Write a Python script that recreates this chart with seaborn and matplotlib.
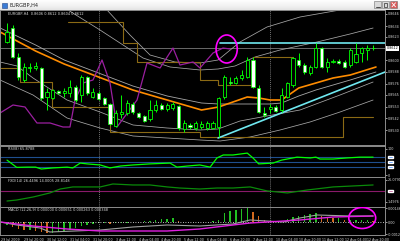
import matplotlib
matplotlib.use("Agg")
import matplotlib.pyplot as plt
import seaborn as sns
import numpy as np
import pandas as pd
from matplotlib.patches import Ellipse, Rectangle

# ---------------- data ----------------
bar_open = [0.8618, 0.8632, 0.8603, 0.8580, 0.8592, 0.8592, 0.8592, 0.8563, 0.8562, 0.8569,
            0.8567, 0.8567, 0.8573, 0.8565, 0.8583, 0.8563, 0.8567, 0.8562, 0.8556, 0.8534,
            0.8546, 0.8547, 0.8556, 0.8547, 0.8544, 0.8541, 0.8550, 0.8555, 0.8551, 0.8552,
            0.8554, 0.8531, 0.8535, 0.8532, 0.8533, 0.8532, 0.8532, 0.8533, 0.8563, 0.8578,
            0.8577, 0.8582, 0.8583, 0.8600, 0.8572, 0.8547, 0.8551, 0.8553, 0.8550, 0.8563,
            0.8575, 0.8600, 0.8595, 0.8587, 0.8593, 0.8612, 0.8593, 0.8598, 0.8599, 0.8598,
            0.8595, 0.8598, 0.8607, 0.8610, 0.8612]
bar_high = [0.8637, 0.8635, 0.8607, 0.8597, 0.8597, 0.8598, 0.8593, 0.8572, 0.8571, 0.8570,
            0.8572, 0.8580, 0.8575, 0.8585, 0.8584, 0.8572, 0.8569, 0.8563, 0.8557, 0.8550,
            0.8565, 0.8560, 0.8558, 0.8548, 0.8545, 0.8560, 0.8560, 0.8557, 0.8557, 0.8558,
            0.8555, 0.8540, 0.8537, 0.8539, 0.8539, 0.8539, 0.8539, 0.8563, 0.8585, 0.8583,
            0.8584, 0.8590, 0.8603, 0.8603, 0.8575, 0.8553, 0.8556, 0.8555, 0.8572, 0.8578,
            0.8603, 0.8607, 0.8597, 0.8595, 0.8617, 0.8613, 0.8602, 0.8601, 0.8601, 0.8600,
            0.8612, 0.8617, 0.8613, 0.8615, 0.8615]
bar_low = [0.8617, 0.8602, 0.8580, 0.8578, 0.8588, 0.8590, 0.8560, 0.8550, 0.8561, 0.8566,
           0.8563, 0.8563, 0.8558, 0.8558, 0.8565, 0.8562, 0.8560, 0.8555, 0.8535, 0.8533,
           0.8542, 0.8545, 0.8546, 0.8542, 0.8538, 0.8539, 0.8548, 0.8550, 0.8549, 0.8550,
           0.8530, 0.8528, 0.8531, 0.8530, 0.8531, 0.8530, 0.8531, 0.8523, 0.8561, 0.8575,
           0.8576, 0.8580, 0.8582, 0.8572, 0.8547, 0.8543, 0.8547, 0.8548, 0.8548, 0.8562,
           0.8573, 0.8593, 0.8586, 0.8585, 0.8592, 0.8592, 0.8588, 0.8597, 0.8596, 0.8592,
           0.8593, 0.8597, 0.8598, 0.8600, 0.8610]
bar_close = [0.8628, 0.8603, 0.8583, 0.8593, 0.8593, 0.8594, 0.8562, 0.8568, 0.8570, 0.8567,
             0.8569, 0.8573, 0.8560, 0.8583, 0.8567, 0.8568, 0.8561, 0.8556, 0.8536, 0.8547,
             0.8548, 0.8557, 0.8548, 0.8543, 0.8539, 0.8550, 0.8555, 0.8551, 0.8555, 0.8556,
             0.8532, 0.8537, 0.8533, 0.8537, 0.8536, 0.8537, 0.8537, 0.8562, 0.8583, 0.8577,
             0.8582, 0.8585, 0.8600, 0.8573, 0.8548, 0.8545, 0.8553, 0.8549, 0.8565, 0.8577,
             0.8602, 0.8595, 0.8588, 0.8593, 0.8612, 0.8593, 0.8598, 0.8599, 0.8597, 0.8593,
             0.8610, 0.8606, 0.8612, 0.8612, 0.8612]

# moving averages on the price panel (bar index, price)
ma_fast_x = [-1.2, 5, 10, 16, 22, 28, 34, 37, 40, 42, 44, 46, 48, 51, 54, 57, 60, 64.5]
ma_fast_y = [0.8628, 0.8609, 0.8596, 0.8583, 0.8570, 0.8560, 0.8550, 0.8553, 0.8559, 0.8563,
             0.8562, 0.8560, 0.8560, 0.8572, 0.8577, 0.8582, 0.8585, 0.8593]
ma_slow_x = [-1.2, 5, 10, 16, 22, 28, 34, 37, 40, 42, 44, 46, 48, 51, 54, 57, 60, 64.5]
ma_slow_y = [0.8632, 0.8615, 0.8600, 0.8587, 0.8574, 0.8564, 0.8557, 0.8556, 0.8556, 0.8556,
             0.8556, 0.8556, 0.8557, 0.8564, 0.8570, 0.8575, 0.8580, 0.8588]
# envelope bands (inner and outer, upper and lower)
band_in_up_x = [8.39, 10.66, 16.26, 23.78, 28.5, 33.74, 36.89, 39.86, 43.36, 47.73, 54.2, 59.97, 64.0]
band_in_up_y = [0.8662, 0.8650, 0.8630, 0.8602, 0.8593, 0.8590, 0.8591, 0.8594, 0.8603, 0.8610,
                0.8618, 0.8626, 0.8632]
band_out_up_x = [12.76, 17.48, 21.5, 25.0, 29.37, 33.74, 36.89, 40.73, 45.45, 51.22, 58.22, 64.0]
band_out_up_y = [0.8665, 0.8650, 0.8625, 0.8605, 0.8598, 0.8597, 0.8600, 0.8618, 0.8633, 0.8643,
                 0.8650, 0.8654]
band_in_lo_x = [-1.22, 1.75, 4.55, 10.49, 16.26, 22.03, 27.97, 33.74, 36.89, 40.73, 45.45, 51.22,
                58.22, 64.0]
band_in_lo_y = [0.8598, 0.8594, 0.8582, 0.8560, 0.8548, 0.8535, 0.8532, 0.8530, 0.8531, 0.8539,
                0.8544, 0.8550, 0.8565, 0.8578]
band_out_lo_x = [-1.22, 4.55, 10.49, 16.26, 22.03, 27.97, 33.74, 37.24, 42.48, 47.73, 52.97,
                 58.22, 64.0]
band_out_lo_y = [0.8580, 0.8565, 0.8542, 0.8532, 0.8524, 0.8522, 0.8520, 0.8519, 0.8523, 0.8530,
                 0.8538, 0.8548, 0.8560]
# lagging line (purple)
lag_x = [-1.22, 1.05, 3.15, 5.24, 7.52, 9.79, 11.01, 11.89, 13.29, 15.03, 16.61, 18.01, 19.23,
         22.73, 24.48, 26.75, 29.02, 30.24, 32.52, 33.74, 36.01, 37.76, 38.99]
lag_y = [0.8547, 0.8555, 0.8553, 0.8537, 0.8537, 0.8533, 0.8533, 0.8560, 0.8577, 0.8580,
         0.8600, 0.8577, 0.8533, 0.8560, 0.8597, 0.8592, 0.8612, 0.8595, 0.8598, 0.8592,
         0.8607, 0.8612, 0.8611]
# step lines (brown)
step_a_x = [-1.22, 2.27, 2.27, 7.87, 7.87, 18.0, 18.0, 33.74, 33.74, 58.74, 58.74, 64.0]
step_a_y = [0.8592, 0.8592, 0.8578, 0.8578, 0.8553, 0.8553, 0.8528, 0.8528, 0.8523, 0.8523,
            0.8543, 0.8543]
step_b_x = [10.66, 20.28, 20.28, 22.73, 22.73, 33.74, 33.74, 36.89, 36.89, 43.0, 43.0, 50.0]
step_b_y = [0.8638, 0.8638, 0.8617, 0.8617, 0.8598, 0.8598, 0.8580, 0.8580, 0.8575, 0.8575,
            0.8603, 0.8603]

# trend lines (bar index, price)
hline_x = [37.3, 66.1]
hline_y = [0.8617, 0.8617]
trend_x = [36.9, 66.1]
trend_y = [0.8522, 0.8588]

price_ticks = [0.8646, 0.8634, 0.8623, 0.8600, 0.8588, 0.8576, 0.8565, 0.8553, 0.8542, 0.8530]
bid_price = 0.8612

# RSI
rsi_x = [0, 1.7, 3.5, 5, 6, 8, 10.5, 11.5, 12.8, 14, 16.3, 18, 19.8, 22, 25, 28.5, 29.7, 31.5,
         33.7, 35.5, 36.7, 37.8, 39.5, 42, 43, 44, 46.5, 48, 50.7, 53, 54, 54.7, 57, 59.4, 61.7, 64]
rsi_y = [57, 30, 31, 31, 24, 28, 31, 28, 46, 43, 39, 28, 35, 39, 43, 46, 31, 35,
         39, 31, 65, 76, 76, 83, 65, 43, 46, 57, 68, 65, 68, 61, 61, 65, 68, 68]
rsi_levels = [70, 50, 30]

# third oscillator
osc_x = [0, 1.7, 4.6, 7.5, 9.3, 11.5, 16.3, 18.5, 22, 25, 28, 30.2, 33.7, 36.7, 39.5, 42.5,
         45.5, 49, 52.5, 57, 64]
osc_y = [2.6, 3.7, 7.1, 11.6, 16.0, 18.3, 18.3, 21.6, 20.5, 20.5, 18.3, 17.1, 16.0, 17.1,
         17.1, 18.3, 13.8, 11.6, 14.9, 18.3, 20.5]
osc_level = 14.0

# MACD histogram per bar
macd_hist = [-0.0003, -0.0005, -0.0007, -0.0008, -0.0008, -0.0009, -0.0010, -0.0011, -0.0011, -0.0010,
             -0.0009, -0.0008, -0.0006, -0.0004, -0.0003, -0.0002, -0.0001, -0.0001, -0.0002, -0.0001,
             -0.0001, -0.00005, 0.00003, 0.00005, 0.0001, 0.0001, 0.0002, 0.0003, 0.0003, 0.0004,
             0.0001, 0.00005, 0.00003, 0.00003, 0.00005, 0.00005, 0.0001, 0.0002, 0.0009, 0.0011,
             0.0012, 0.0013, 0.0014, 0.0010, 0.0006, 0.0002, 0.0001, 0.00005, 0.0001, 0.0003,
             0.0005, 0.0006, 0.0007, 0.0008, 0.0009, 0.0006, 0.0005, 0.0004, 0.0004, 0.0002,
             0.0002, 0.0002, 0.0002, 0.0002, 0.0001]
macd_sig_x = [-1.2, 4.6, 10.5, 16.3, 22, 28, 33.7, 39.5, 42.5, 45.5, 51.2, 57, 64]
macd_sig_y = [0.0000, -0.0004, -0.0007, -0.0009, -0.0009, -0.0009, -0.0007, -0.0003, -0.0001,
              0.0000, 0.0002, 0.0005, 0.0006]
macd_main_x = [-1.2, 1.7, 5.8, 7.5, 16.3, 22, 28, 33.7, 39.5, 42.5, 48.3, 51.2, 54.2, 60, 64]
macd_main_y = [0.0000, -0.0003, -0.0006, -0.0010, -0.0008, -0.0005, -0.0003, -0.0004, -0.0002,
               0.0002, 0.0000, 0.0004, 0.0007, 0.0006, 0.0006]

time_labels = ["29 Jul 2009", "29 Jul 20:00", "30 Jul 12:00", "31 Jul 04:00", "31 Jul 20:00",
               "3 Aug 12:00", "4 Aug 04:00", "4 Aug 20:00", "5 Aug 12:00", "6 Aug 04:00",
               "6 Aug 20:00", "7 Aug 12:00", "10 Aug 04:00", "10 Aug 20:00", "11 Aug 12:00",
               "12 Aug 04:00", "12 Aug 20:00"]
time_label_bars = [-1, 3, 7, 11, 15, 19, 23, 27, 31, 35, 39, 43, 47, 51, 55, 59, 63]
week_sep_bars = [16, 46]

# ---------------- figure ----------------
sns.set_theme(style="dark")
plt.rcParams['font.family'] = ['DejaVu Sans']

W, H = 400, 241
fig = plt.figure(figsize=(4, 2.41), dpi=100, facecolor='black')

def add_ax(x0, y0, x1, y1):
    ax = fig.add_axes([x0 / W, 1 - y1 / H, (x1 - x0) / W, (y1 - y0) / H])
    ax.set_facecolor('black')
    for s in ax.spines.values():
        s.set_color('#8c8c8c')
        s.set_linewidth(0.7)
    ax.grid(False)
    ax.set_xlim(-1.224, 66.08)
    ax.set_xticks([])
    return ax

GREEN = '#00ff00'
GRAY = '#a8a8a8'
BROWN = '#8b6a14'
ORANGE = '#ff8c00'
PURPLE = '#9b1fa0'
CYAN = '#6fe8f0'
MAG = '#ff00ff'
TFS = 2.4

def right_ticks(ax, ticks, labels=None):
    ax.yaxis.tick_right()
    ax.set_yticks(ticks)
    if labels is not None:
        ax.set_yticklabels(labels)
    ax.tick_params(axis='y', labelsize=TFS, colors='#d8d8d8', length=1.2, width=0.5, pad=0.6)

def line(ax, xs, ys, **kw):
    sns.lineplot(data=pd.DataFrame({"x": xs, "y": ys}), x="x", y="y", ax=ax, sort=False,
                 estimator=None, errorbar=None, **kw)
    ax.set_xlabel(""); ax.set_ylabel("")

# title bar
tb = fig.add_axes([0, 1 - 10 / H, 1, 10 / H])
tb.imshow(np.linspace(1, 0, 20).reshape(-1, 1), aspect='auto', cmap='Greys_r',
          extent=[0, 400, 10, 0], vmin=-4.5, vmax=1.05)
tb.set_xlim(0, 400)
tb.set_ylim(10, 0)
tb.axis('off')
tb.add_patch(Rectangle((1.5, 2.5), 5, 5, facecolor='#3a7bd5', edgecolor='#224488', lw=0.4))
tb.text(9, 5.2, "EURGBP,H4", fontsize=3.6, color='#202020', va='center', ha='left')
for bx, col in [(374, '#d9d9d9'), (382, '#d9d9d9'), (390, '#d85a5a')]:
    tb.add_patch(Rectangle((bx, 1.2), 7.4, 7.2, facecolor=col, edgecolor='#707070', lw=0.4))
tb.plot([376, 379.5], [6.8, 6.8], color='#303030', lw=0.6)
tb.add_patch(Rectangle((384, 3.0), 3.4, 3.6, facecolor='none', edgecolor='#303030', lw=0.5))
tb.plot([392, 395.5], [2.8, 6.8], color='white', lw=0.6)
tb.plot([392, 395.5], [6.8, 2.8], color='white', lw=0.6)

# main price panel
ax = add_ax(0, 10, 385, 145)
ax.set_ylim(0.8515, 0.8650)
right_ticks(ax, price_ticks, [f"{p:.4f}" for p in price_ticks])

for b in week_sep_bars:
    ax.axvline(b, color='#9a9a9a', lw=0.5, ls=(0, (1.5, 1.5)))
ax.axhline(bid_price, color='#7a7a7a', lw=0.6)

bars = pd.DataFrame({"bar": np.arange(len(bar_open)), "open": bar_open, "high": bar_high,
                     "low": bar_low, "close": bar_close})

for bx_, by_ in [(band_in_up_x, band_in_up_y), (band_out_up_x, band_out_up_y),
                 (band_in_lo_x, band_in_lo_y), (band_out_lo_x, band_out_lo_y)]:
    line(ax, bx_, by_, color=GRAY, lw=0.55)
line(ax, step_a_x, step_a_y, color=BROWN, lw=0.8)
line(ax, step_b_x, step_b_y, color=BROWN, lw=0.8)
line(ax, ma_slow_x, ma_slow_y, color=GRAY, lw=0.6)
line(ax, ma_fast_x, ma_fast_y, color=ORANGE, lw=1.2)
line(ax, lag_x, lag_y, color=PURPLE, lw=0.9)

ax.vlines(bars["bar"], bars["low"], bars["high"], color=GREEN, lw=0.7, zorder=4)
up = bars["close"] >= bars["open"]
body_lo = np.minimum(bars["open"], bars["close"])
body_h = np.maximum(np.abs(bars["close"] - bars["open"]), 0.00003)
ax.bar(bars["bar"][up], body_h[up], bottom=body_lo[up], width=0.55, color='black',
       edgecolor=GREEN, lw=0.6, zorder=5)
ax.bar(bars["bar"][~up], body_h[~up], bottom=body_lo[~up], width=0.55, color='white',
       edgecolor=GREEN, lw=0.5, zorder=5)

line(ax, hline_x, hline_y, color=CYAN, lw=1.2)
line(ax, trend_x, trend_y, color=CYAN, lw=1.2)
ax.add_patch(Ellipse((38.4, 0.8611), 3.7, 0.0028, facecolor='none', edgecolor=MAG, lw=1.2, zorder=6))
ax.text(0.2, 0.8646, "EURGBP,H4  0.8606 0.8612 0.8604 0.8612", fontsize=2.5, color='#e0e0e0',
        va='center', ha='left')
ax.text(66.35, bid_price, f"{bid_price:.4f}", fontsize=TFS, color='black', va='center', ha='left',
        bbox=dict(boxstyle='square,pad=0.15', fc='white', ec='none'), clip_on=False, zorder=7)

# RSI panel
ar = add_ax(0, 146, 385, 177)
ar.set_ylim(-5.6, 109.3)
right_ticks(ar, [100, 0], ["100", "0"])
for lv in rsi_levels:
    ar.axhline(lv, color='#1f4f8f', lw=0.8)
    ar.add_patch(Rectangle((66.6, lv - 4), 0.9, 8, facecolor='#2a7fff', clip_on=False))
for b in week_sep_bars:
    ar.axvline(b, color='#9a9a9a', lw=0.5, ls=(0, (1.5, 1.5)))
line(ar, rsi_x, rsi_y, color=GREEN, lw=0.9)
ar.text(0.2, 98, "RSI(8) 65.8788", fontsize=2.5, color='#e0e0e0', va='center', ha='left')

# third panel
ao = add_ax(0, 177, 385, 207)
ao.set_ylim(-4.1, 29.4)
right_ticks(ao, [26.0791, 1.4976], ["26.0791", "1.4976"])
ao.axhline(osc_level, color='#8a1a6a', lw=0.8)
ao.add_patch(Rectangle((66.6, osc_level - 1.4), 0.9, 2.8, facecolor='#b0287a', clip_on=False))
for b in week_sep_bars:
    ao.axvline(b, color='#9a9a9a', lw=0.5, ls=(0, (1.5, 1.5)))
line(ao, osc_x, osc_y, color='#0a8a0a', lw=0.9)
ao.text(0.2, 24.5, "FXD(14) 26.4496 14.0005 28.8148", fontsize=2.5, color='#e0e0e0', va='center', ha='left')

# MACD panel
am = add_ax(0, 207, 385, 235)
am.set_ylim(-0.0013, 0.0015)
right_ticks(am, [0.0014, 0.0, -0.0012], ["0.00146", "0.00", "-0.0012"])
am.axhline(0, color='white', lw=0.6, ls=(0, (1, 2)))
for b in week_sep_bars:
    am.axvline(b, color='#9a9a9a', lw=0.5, ls=(0, (1.5, 1.5)))
hist = np.array(macd_hist)
rising = np.r_[True, hist[1:] >= hist[:-1]]
colors = np.where(rising, '#22c022', '#d2691e')
am.bar(np.arange(len(hist)), hist, width=0.25, color=colors, lw=0)
line(am, macd_main_x, macd_main_y, color='#a0a0a0', lw=0.8)
line(am, macd_sig_x, macd_sig_y, color='#e020e0', lw=1.0)
am.add_patch(Ellipse((62.1, 0.0004), 4.7, 0.0021, facecolor='none', edgecolor=MAG, lw=1.2, zorder=6))
am.text(0.2, 0.0012, "MACD (12,26,9) 0.000000 0.000651 0.000263 0.000348", fontsize=2.5,
        color='#e0e0e0', va='center', ha='left')
am.set_xticks(time_label_bars)
am.set_xticklabels(time_labels, ha='left')
am.tick_params(axis='x', labelsize=2.3, colors='#d8d8d8', length=1.2, width=0.5, pad=0.6)

fig.savefig("out.png", dpi=100, facecolor='black')
